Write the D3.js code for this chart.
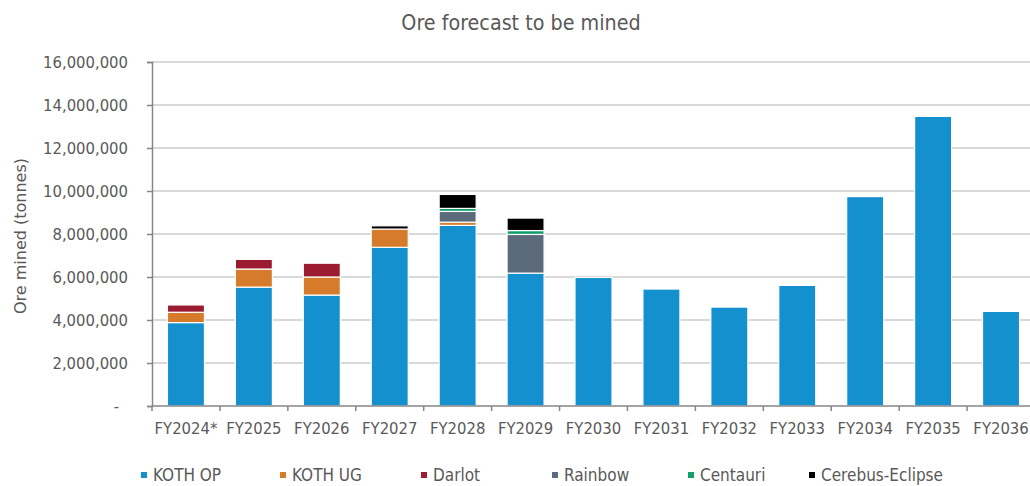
<!DOCTYPE html>
<html>
<head>
<meta charset="utf-8">
<script src="https://cdn.jsdelivr.net/npm/d3@7"></script>
<style>
  html, body { margin: 0; padding: 0; background: #ffffff; }
  svg { display: block; }
  text { font-family: "DejaVu Sans Condensed", "DejaVu Sans", sans-serif; fill: #595959; }
</style>
</head>
<body>
<svg id="chart" width="1030" height="486"></svg>
<script>
// Financial years on the category axis
const years = ["FY2024*", "FY2025", "FY2026", "FY2027", "FY2028", "FY2029", "FY2030",
               "FY2031", "FY2032", "FY2033", "FY2034", "FY2035", "FY2036"];

// Ore mined per source, tonnes
const kothOP   = [3880000, 5530000, 5160000, 7380000, 8400000, 6180000, 5980000,
                  5440000, 4600000, 5610000, 9740000, 13470000, 4400000];
const kothUG   = [480000, 840000, 840000, 850000, 150000, 0, 0, 0, 0, 0, 0, 0, 0];
const darlot   = [340000, 450000, 640000, 0, 0, 0, 0, 0, 0, 0, 0, 0, 0];
const rainbow  = [0, 0, 0, 0, 500000, 1800000, 0, 0, 0, 0, 0, 0, 0];
const centauri = [0, 0, 0, 0, 140000, 180000, 0, 0, 0, 0, 0, 0, 0];
const cerebus  = [0, 0, 0, 150000, 650000, 580000, 0, 0, 0, 0, 0, 0, 0];

const seriesNames = ["KOTH OP", "KOTH UG", "Darlot", "Rainbow", "Centauri", "Cerebus-Eclipse"];
const seriesValues = [kothOP, kothUG, darlot, rainbow, centauri, cerebus];
const seriesColors = ["#1590cf", "#d67b29", "#9b1b31", "#5b6b7c", "#12a06a", "#000000"];

const yTicks = [0, 2000000, 4000000, 6000000, 8000000, 10000000, 12000000, 14000000, 16000000];

const title = "Ore forecast to be mined";
const yTitle = "Ore mined (tonnes)";

// Rows for the stack layout
const rows = years.map((yr, i) => {
  const r = { year: yr };
  seriesNames.forEach((n, k) => { r[n] = seriesValues[k][i]; });
  return r;
});

const svg = d3.select("#chart");
const plot = { left: 152, right: 1035, top: 62, bottom: 406 };

const x = d3.scaleBand().domain(years).range([plot.left, plot.right]).padding(0);
const y = d3.scaleLinear().domain([0, 16000000]).range([plot.bottom, plot.top]);
const barW = x.bandwidth() * 0.545;

// Horizontal gridlines
svg.append("g")
  .selectAll("line")
  .data(yTicks.filter(d => d > 0))
  .join("line")
  .attr("x1", plot.left).attr("x2", plot.right)
  .attr("y1", d => y(d)).attr("y2", d => y(d))
  .attr("stroke", "#d9d9d9").attr("stroke-width", 2);

// Stacked bars
const stacked = d3.stack().keys(seriesNames)(rows);
const layers = svg.append("g")
  .selectAll("g")
  .data(stacked)
  .join("g")
  .attr("fill", (d, i) => seriesColors[i]);

layers.selectAll("rect")
  .data(d => d.filter(s => s[1] - s[0] > 0))
  .join("rect")
  .attr("x", d => x(d.data.year) + (x.bandwidth() - barW) / 2)
  .attr("width", barW)
  .attr("y", d => y(d[1]))
  .attr("height", d => y(d[0]) - y(d[1]))
  .attr("stroke", "#ffffff")
  .attr("stroke-width", 1.2);

// Y axis
const fmt = d3.format(",");
const yAxis = svg.append("g")
  .attr("transform", `translate(${plot.left},0)`)
  .call(d3.axisLeft(y).tickValues(yTicks).tickSize(5).tickPadding(19)
    .tickFormat(d => d === 0 ? "-" : fmt(d)));
yAxis.select(".domain").attr("stroke", "#868686").attr("stroke-width", 1.5);
yAxis.selectAll(".tick line").attr("stroke", "#868686").attr("stroke-width", 1.5);
yAxis.selectAll(".tick text")
  .style("font-size", "16.5px").style("font-family", null).attr("fill", "#595959")
  .attr("dx", d => d === 0 ? -9 : 0);

// X axis with ticks at category boundaries
const xAxisG = svg.append("g").attr("transform", `translate(0,${plot.bottom})`);
xAxisG.append("line")
  .attr("x1", plot.left).attr("x2", plot.right)
  .attr("stroke", "#868686").attr("stroke-width", 1.5);
xAxisG.selectAll("line.tk")
  .data(years)
  .join("line")
  .attr("class", "tk")
  .attr("x1", d => x(d)).attr("x2", d => x(d))
  .attr("y1", 0).attr("y2", 5)
  .attr("stroke", "#868686").attr("stroke-width", 1.5);
xAxisG.selectAll("text")
  .data(years)
  .join("text")
  .attr("x", d => x(d) + x.bandwidth() / 2)
  .attr("y", 28)
  .attr("text-anchor", "middle")
  .style("font-size", "16.5px")
  .text(d => d);

// Titles
svg.append("text")
  .attr("x", 521).attr("y", 30)
  .attr("text-anchor", "middle")
  .style("font-size", "21.3px")
  .text(title);

svg.append("text")
  .attr("transform", `translate(26,${(plot.top + plot.bottom) / 2 + 2}) rotate(-90)`)
  .attr("text-anchor", "middle")
  .style("font-size", "16px")
  .style("font-family", "'DejaVu Sans', sans-serif")
  .text(yTitle);

// Legend
const legendX = [141, 280, 421, 552, 688, 809];
const legend = svg.append("g")
  .selectAll("g")
  .data(seriesNames)
  .join("g")
  .attr("transform", (d, i) => `translate(${legendX[i]},481)`);
legend.append("rect")
  .attr("x", 0).attr("y", -9).attr("width", 6).attr("height", 6)
  .attr("fill", (d, i) => seriesColors[i]);
legend.append("text")
  .attr("x", 12).attr("y", 0)
  .style("font-size", "17px")
  .text(d => d);
</script>
</body>
</html>
